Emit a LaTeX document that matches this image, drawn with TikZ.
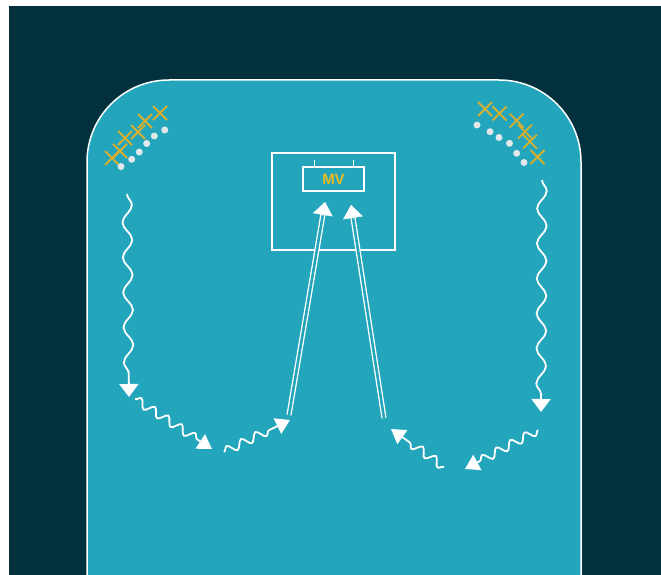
\documentclass[tikz,border=0pt]{standalone}
\usepackage{fontspec}
\setsansfont{Liberation Sans}
\usetikzlibrary{arrows.meta,decorations.pathmorphing,calc}
\definecolor{bgdark}{RGB}{2,49,61}
\definecolor{pitch}{RGB}{35,165,188}
\definecolor{gold}{RGB}{214,176,48}
\definecolor{mvgold}{RGB}{236,186,32}
\definecolor{dotgrey}{RGB}{226,232,234}
\begin{document}
\begin{tikzpicture}[x=1pt,y=-1pt,
  longwave/.style={draw=white, line width=1.8pt, -{Triangle[length=13pt,width=19pt]},
    decorate, decoration={snake, amplitude=4.8pt, segment length=35pt, post length=15pt}},
  shortwave/.style={draw=white, line width=1.8pt, -{Triangle[length=14pt,width=17pt]},
    decorate, decoration={snake, amplitude=4.2pt, segment length=16pt, post length=16pt}},
  dbl/.style={draw=white, line width=1.3pt, double=pitch, double distance=2.6pt, shorten >=11pt},
  tipline/.style={draw=white, line width=0.5pt, -{Triangle[length=13pt,width=20pt]}},
  crossline/.style={draw=gold, line width=1.8pt},
  dotmark/.style={fill=dotgrey},
  frame/.style={draw=white, line width=1.5pt, inner sep=0pt}]
\useasboundingbox (0,0) rectangle (661,575);
\fill[white] (0,0) rectangle (661,575);
\fill[bgdark] (9,6) rectangle (661,575);
% pitch
\path[fill=pitch, draw=white, line width=1.5pt]
  (87,585) -- (87,162) arc[start angle=180, end angle=270, radius=82]
  -- (499,80) arc[start angle=270, end angle=360, radius=82] -- (581,585);
% crosses
\foreach \x/\y in {112/158,120/151,125/138,138/132,145/121,160/113,
                   485/109,499.5/113.5,516.7/120.5,525/131.7,530/141.7,537.5/157}
  \draw[crossline] (\x,\y) ++(-7,-7) -- ++(14,14) ++(-14,0) -- ++(14,-14);
% dots
\foreach \x/\y in {121/166.5,131.7/159.3,139.3/152,146.7/143.5,154.3/136,164.7/130,
                   477/125,490/131.7,499/137.5,509.5/143.3,516.7/153.3,524/162.5}
  \fill[dotmark] (\x,\y) circle[radius=3.5];
% goal
\node[frame, minimum width=123pt, minimum height=97pt] (goal) at (333.5,201.5) {};
\node[frame, minimum width=61pt, minimum height=24pt,
      font=\sffamily\bfseries\fontsize{15}{15}\selectfont, text=mvgold] (mv) at (333.5,179) {MV};
\coordinate (t1) at (314.5,167); \coordinate (t2) at (353.5,167);
\draw[draw=white, line width=1.3pt] (t1) -- ++(0,-7) (t2) -- ++(0,-7);
% wave end points
\coordinate (lv1) at (127,194);  \coordinate (lv2) at (129,397);
\coordinate (rv1) at (542,180);  \coordinate (rv2) at (541,412);
\coordinate (a1) at (135,399);   \coordinate (a2) at (212,449);
\coordinate (b1) at (224,452);   \coordinate (b2) at (290,420);
\coordinate (c1) at (444,467);   \coordinate (c2) at (391,429);
\coordinate (e1) at (538,430);   \coordinate (e2) at (465,469);
\draw[longwave] (lv1) -- (lv2);
\draw[longwave] (rv1) -- (rv2);
\draw[shortwave] (a1) -- (a2);
\draw[shortwave] (b1) -- (b2);
\draw[shortwave] (c1) -- (c2);
\draw[shortwave] (e1) -- (e2);
% passes to goal
\coordinate (p1) at (289,415); \coordinate (p2) at (325,202);
\coordinate (q1) at (384,418); \coordinate (q2) at (351,205);
\draw[dbl] (p1) -- (p2);
\draw[tipline] ($(p2)!14pt!(p1)$) -- (p2);
\draw[dbl] (q1) -- (q2);
\draw[tipline] ($(q2)!14pt!(q1)$) -- (q2);
\end{tikzpicture}
\end{document}
